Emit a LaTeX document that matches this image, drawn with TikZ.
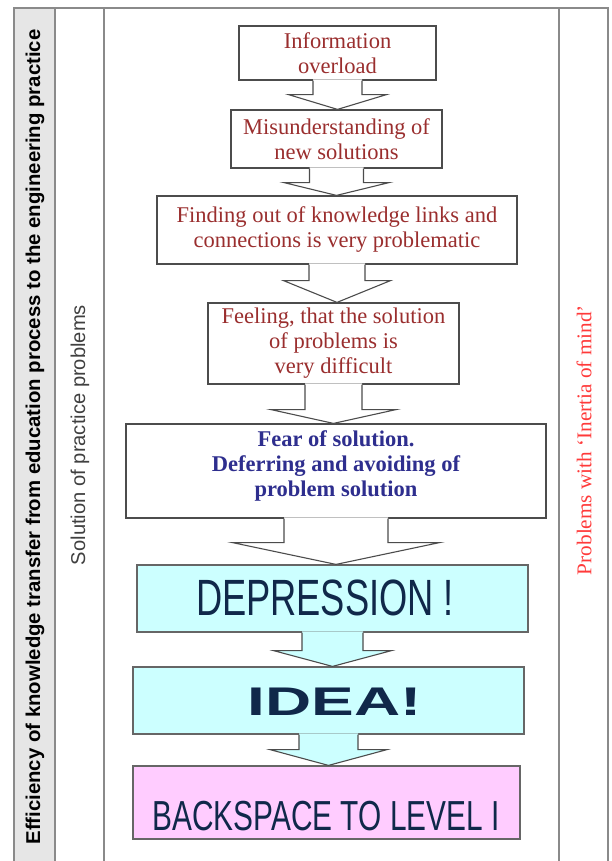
\documentclass[tikz,border=0pt]{standalone}
\usepackage{fontspec}
\usepackage{graphicx}
\setmainfont{Liberation Serif}
\newfontfamily\sansf{Liberation Sans}
\usetikzlibrary{calc}
\definecolor{brick}{HTML}{9A2E2E}
\definecolor{fearblue}{HTML}{2E2E8E}
\definecolor{navy}{HTML}{10284A}
\definecolor{cyanfill}{HTML}{CCFFFF}
\definecolor{pinkfill}{HTML}{FFCCFF}
\definecolor{framegray}{HTML}{8A8A8A}
\definecolor{colgray}{HTML}{E6E6E6}
\definecolor{inertred}{HTML}{FF3A3A}
\newcommand\barrow[6][white]{%
  \fill[#1] let \p1=(#2.south), \p2=(#3.north) in
    (\x1-#4pt,\y1+1.2pt) -- (\x1-#4pt,\y1-#6pt) -- (\x1-#5pt,\y1-#6pt) -- (\x1,\y2)
    -- (\x1+#5pt,\y1-#6pt) -- (\x1+#4pt,\y1-#6pt) -- (\x1+#4pt,\y1+1.2pt) -- cycle;
  \draw[arrowline] let \p1=(#2.south), \p2=(#3.north) in
    (\x1-#4pt,\y1) -- (\x1-#4pt,\y1-#6pt) -- (\x1-#5pt,\y1-#6pt) -- (\x1,\y2)
    -- (\x1+#5pt,\y1-#6pt) -- (\x1+#4pt,\y1-#6pt) -- (\x1+#4pt,\y1);
}
\begin{document}
\begin{tikzpicture}[x=1pt,y=-1pt,
  frame/.style={draw=framegray, line width=2.2pt},
  box/.style={draw=black!70, line width=1.2pt, fill=white, align=center, inner sep=0pt,
    text=brick, font=\fontsize{22.5}{25}\selectfont},
  bigbox/.style={draw=black!60, line width=1.2pt, inner sep=0pt},
  arrowline/.style={draw=black!70, line width=1.1pt, line join=miter},
  bigtext/.style={text=navy, inner sep=0pt, anchor=base}]
\useasboundingbox (0,0) rectangle (611,861);
% frame
\fill[colgray] (14,8) rectangle (55,861);
\draw[frame] (14,861) -- (14,8) -- (608,8) -- (608,861);
\draw[frame] (55,8) -- (55,861);
\draw[frame] (104,8) -- (104,861);
\draw[frame] (559,8) -- (559,861);
% column texts
\node[rotate=90, inner sep=0pt, font=\sansf\bfseries\fontsize{20}{20}\selectfont] (c1) at (35,437)
  {\resizebox{815pt}{\height}{Efficiency of knowledge transfer from education process to the engineering practice}};
\node[rotate=90, inner sep=0pt, text=black!75, font=\sansf\fontsize{20}{20}\selectfont] (c2) at (80,435)
  {\resizebox{260pt}{\height}{Solution of practice problems}};
\node[rotate=90, inner sep=0pt, text=inertred, font=\fontsize{21}{21}\selectfont] (c3) at (584,440)
  {\resizebox{270pt}{\height}{Problems with `Inertia of mind'}};
% boxes
\node[box, minimum width=197pt, minimum height=54pt] (b1) at (337.5,53) {Information\\overload};
\node[box, minimum width=211pt, minimum height=58pt] (b2) at (336.5,139) {Misunderstanding of\\new solutions};
\node[box, minimum width=360pt, minimum height=68pt] (b3) at (337,230) {Finding out of knowledge links and\\connections is very problematic};
\node[box, minimum width=251pt, minimum height=81pt] (b4) at (333.5,343.5) {Feeling, that the solution\\of problems is\\very difficult};
\node[box, minimum width=420pt, minimum height=94pt] (b5) at (336,471) {};
\node[text=fearblue, align=center, inner sep=0pt, font=\bfseries\fontsize{22.5}{25}\selectfont] (t5) at (336,466) {Fear of solution.\\Deferring and avoiding of\\problem solution};
\node[bigbox, fill=cyanfill, minimum width=391pt, minimum height=67pt] (b6) at (332.5,598.5) {};
\node[bigbox, fill=cyanfill, minimum width=391pt, minimum height=67pt] (b7) at (328.5,700.5) {};
\node[bigbox, fill=pinkfill, minimum width=387pt, minimum height=73pt] (b8) at (326.5,802.5) {};
% big texts
\node[bigtext, font=\sansf\fontsize{51}{51}\selectfont] (t6) at (325,615) {\resizebox{258pt}{\height}{DEPRESSION !}};
\node[bigtext, font=\sansf\bfseries\fontsize{40}{40}\selectfont] (t7) at (335,715) {\resizebox{174pt}{\height}{IDEA!}};
\node[bigtext, font=\sansf\fontsize{42}{42}\selectfont] (t8) at (326,830) {\resizebox{347pt}{\height}{BACKSPACE TO LEVEL I}};
% block arrows
\barrow{b1}{b2}{24.5}{49}{14}
\barrow{b2}{b3}{27}{52.5}{14}
\barrow{b3}{b4}{28}{53.5}{16}
\barrow{b4}{b5}{28.5}{62.5}{25}
\barrow{b5}{b6}{52}{103.5}{24}
\barrow[cyanfill]{b6}{b7}{30.5}{59}{18}
\barrow[cyanfill]{b7}{b8}{29.5}{58.5}{15}
\end{tikzpicture}
\end{document}
